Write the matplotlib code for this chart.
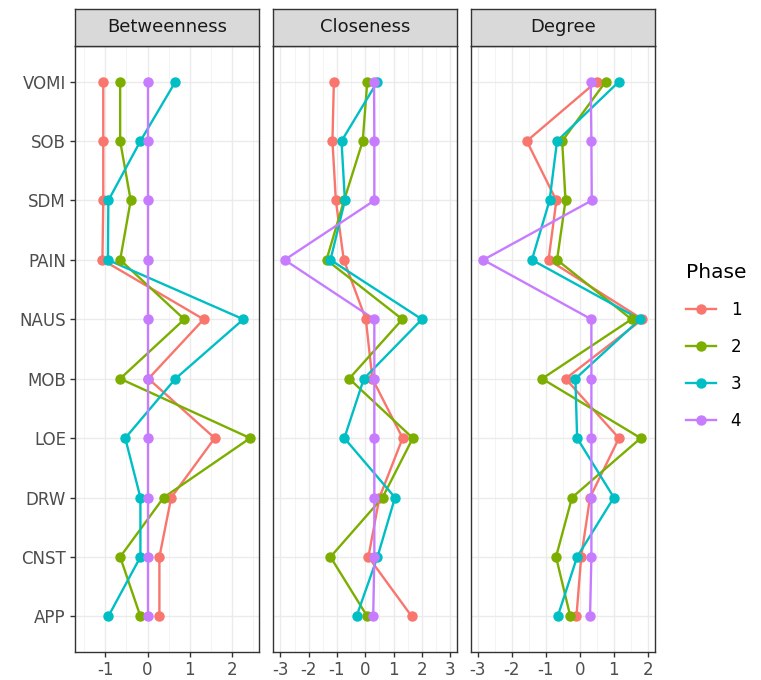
import numpy as np
import matplotlib.pyplot as plt
from matplotlib.lines import Line2D

# -----------------------------------------------------------------------------
# Data
# -----------------------------------------------------------------------------
nodes = ['APP', 'CNST', 'DRW', 'LOE', 'MOB', 'NAUS', 'PAIN', 'SDM', 'SOB', 'VOMI']
phases = ['1', '2', '3', '4']
colors = ['#F8766D', '#7CAE00', '#00BFC4', '#C77CFF']

# values per phase, ordered as in nodes (APP ... VOMI)
betweenness = {
    '1': [0.28, 0.28, 0.56, 1.59, 0.02, 1.33, -1.07, -1.05, -1.05, -1.05],
    '2': [-0.17, -0.65, 0.38, 2.43, -0.65, 0.87, -0.65, -0.40, -0.65, -0.65],
    '3': [-0.93, -0.17, -0.17, -0.53, 0.66, 2.27, -0.94, -0.93, -0.17, 0.66],
    '4': [0.0, 0.0, 0.0, 0.0, 0.0, 0.0, 0.0, 0.0, 0.0, 0.0],
}
closeness = {
    '1': [1.64, 0.11, 0.50, 1.32, 0.25, 0.02, -0.76, -1.04, -1.16, -1.11],
    '2': [0.07, -1.23, 0.61, 1.68, -0.57, 1.31, -1.37, -0.75, -0.09, 0.07],
    '3': [-0.31, 0.43, 1.05, -0.74, -0.05, 2.00, -1.23, -0.72, -0.84, 0.43],
    '4': [0.28, 0.32, 0.32, 0.32, 0.32, 0.32, -2.85, 0.32, 0.32, 0.31],
}
degree = {
    '1': [-0.10, 0.04, 0.30, 1.15, -0.42, 1.84, -0.92, -0.69, -1.56, 0.49],
    '2': [-0.28, -0.70, -0.23, 1.79, -1.11, 1.52, -0.67, -0.42, -0.52, 0.76],
    '3': [-0.65, -0.08, 1.00, -0.08, -0.13, 1.77, -1.41, -0.89, -0.67, 1.15],
    '4': [0.30, 0.34, 0.34, 0.34, 0.34, 0.34, -2.84, 0.35, 0.34, 0.32],
}

panels = [
    ('Betweenness', betweenness, [-1, 0, 1, 2], (-1.72, 2.64)),
    ('Closeness', closeness, [-3, -2, -1, 0, 1, 2, 3], (-3.26, 3.24)),
    ('Degree', degree, [-3, -2, -1, 0, 1, 2], (-3.2, 2.21)),
]

# -----------------------------------------------------------------------------
# Layout (pixel positions of the panels in a 761x680 figure)
# -----------------------------------------------------------------------------
W, H = 761, 680
lefts = [75, 273, 471]
pw = 184
p_top, p_bot = 46, 652
s_top = 9

fig = plt.figure(figsize=(W / 100, H / 100), dpi=100)
fig.patch.set_facecolor('white')

ypos = np.arange(1, len(nodes) + 1)

for i, (title, data, ticks, xlim) in enumerate(panels):
    l = lefts[i]
    ax = fig.add_axes([l / W, 1 - p_bot / H, pw / W, (p_bot - p_top) / H])
    ax.set_facecolor('white')

    # grid
    minors = [t + 0.5 for t in ticks[:-1]] + [ticks[0] - 0.5, ticks[-1] + 0.5]
    for m in minors:
        ax.axvline(m, color='#F2F2F2', lw=0.6, zorder=0)
    for t in ticks:
        ax.axvline(t, color='#EBEBEB', lw=1.0, zorder=0)
    for y in ypos:
        ax.axhline(y, color='#EBEBEB', lw=1.0, zorder=0)

    for ph, col in zip(phases, colors):
        ax.plot(data[ph], ypos, color=col, lw=1.7, zorder=2)
    for ph, col in zip(phases, colors):
        ax.plot(data[ph], ypos, 'o', color=col, ms=6.5, zorder=3)

    ax.set_xlim(*xlim)
    ax.set_ylim(0.4, 10.6)
    ax.set_xticks(ticks)
    ax.set_xticklabels([str(t) for t in ticks])
    ax.set_yticks(ypos)
    if i == 0:
        ax.set_yticklabels(nodes)
    else:
        ax.set_yticklabels([])
    ax.tick_params(axis='both', colors='#333333', labelcolor='#4D4D4D',
                   labelsize=12, width=1.0, length=3.5, pad=3)
    if i > 0:
        ax.tick_params(axis='y', length=0)
    for sp in ax.spines.values():
        sp.set_color('#333333')
        sp.set_linewidth(1.0)

    # strip on top
    sax = fig.add_axes([l / W, 1 - p_top / H, pw / W, (p_top - s_top) / H])
    sax.set_facecolor('#D9D9D9')
    sax.set_xticks([])
    sax.set_yticks([])
    for sp in sax.spines.values():
        sp.set_color('#333333')
        sp.set_linewidth(1.0)
    sax.text(0.5, 0.5, title, ha='center', va='center', fontsize=13,
             color='#1A1A1A', transform=sax.transAxes)

# legend
handles = [Line2D([0], [0], color=c, lw=1.7, marker='o', ms=6.5) for c in colors]
leg = fig.legend(handles, phases, title='Phase', loc='upper left',
                 bbox_to_anchor=(679 / W, 1 - 256 / H), frameon=False,
                 fontsize=12, title_fontsize=14.5, handlelength=1.8,
                 labelspacing=1.15, handletextpad=0.9, alignment='left',
                 borderaxespad=0)

fig.savefig('out.png', dpi=100)
